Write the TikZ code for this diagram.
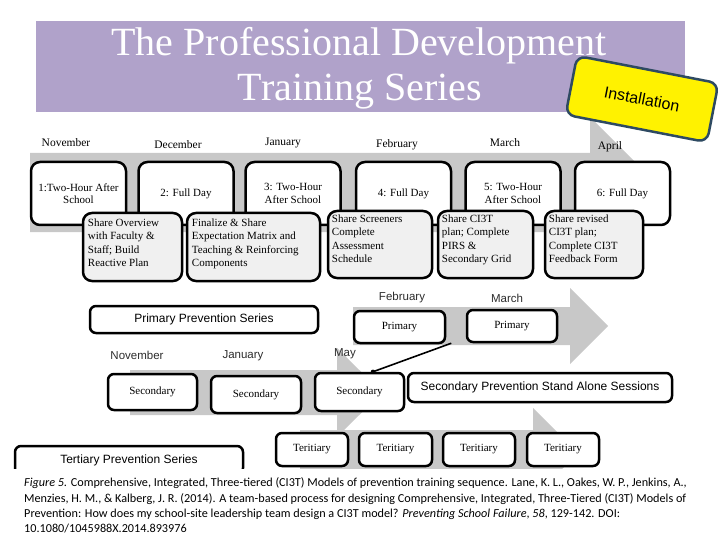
\documentclass[tikz,border=0pt]{standalone}
\usepackage{fontspec}
\setmainfont{Liberation Serif}
\newfontfamily\sansf{Liberation Sans}
\newfontfamily\capf{Carlito}
\usetikzlibrary{calc,arrows.meta}
\definecolor{titlepurple}{RGB}{176,162,202}
\definecolor{bandgray}{RGB}{200,200,200}
\definecolor{subfill}{RGB}{240,240,240}
\definecolor{instborder}{RGB}{46,74,98}
\definecolor{darktext}{RGB}{45,45,45}
\begin{document}
\begin{tikzpicture}[x=1pt,y=-1pt,
  titletext/.style={text=white,font=\fontsize{40}{42}\selectfont,inner sep=0pt},
  monthser/.style={font=\fontsize{11.5}{13}\selectfont,inner sep=0pt},
  monthsans/.style={font=\sansf\fontsize{11.5}{13}\selectfont,text=darktext,inner sep=0pt},
  topbox/.style={draw,line width=2.5pt,rounded corners=9pt,fill=white,inner sep=0pt,align=center,font=\fontsize{11}{12.5}\selectfont},
  subbox/.style={draw,line width=2.5pt,rounded corners=9pt,fill=subfill,inner sep=0pt},
  subtext/.style={anchor=north west,align=left,inner sep=1pt,font=\fontsize{11}{13.3}\selectfont},
  smallbox/.style={draw,line width=2.5pt,rounded corners=6pt,fill=white,inner sep=0pt,font=\fontsize{11}{12.5}\selectfont},
  seriesbox/.style={draw,line width=2.5pt,rounded corners=6pt,fill=white,inner sep=0pt,font=\sansf\fontsize{12}{14}\selectfont},
  band/.style={fill=bandgray,draw=none},
  captext/.style={anchor=base west,inner sep=0pt,font=\capf\fontsize{12.2}{14}\selectfont}
]
\useasboundingbox (0,0) rectangle (720,540);
\fill[white] (0,0) rectangle (720,540);

% title
\fill[titlepurple] (36,21) rectangle (685,112);
\node[titletext,anchor=base] (t1) at (359,56) {The Professional Development};
\node[titletext,anchor=base] (t2) at (360,101) {Training Series};

% top band arrow
\fill[band] (30,153) -- (590,153) -- (590,117) -- (665,192) -- (590,267) -- (590,232) -- (30,232) -- cycle;

% installation
\node[draw=instborder,line width=2.5pt,fill=yellow,rounded corners=9pt,minimum width=144pt,minimum height=60pt,rotate=-11,font=\sansf\fontsize{16}{18}\selectfont] (inst) at (642,99) {Installation};

% months top
\node[monthser] (mNov) at (66,143) {November};
\node[monthser] (mDec) at (178,145) {December};
\node[monthser] (mJan) at (283,143) {January};
\node[monthser] (mFeb) at (397,145) {February};
\node[monthser] (mMar) at (505,143) {March};
\node[monthser] (mApr) at (610,147) {April};

% top boxes
\node[topbox,minimum width=95pt,minimum height=63pt] (b1) at (78.5,193.5) {1:Two-Hour After\\School};
\node[topbox,minimum width=95pt,minimum height=63pt] (b2) at (186,193.5) {2: Full Day};
\node[topbox,minimum width=95pt,minimum height=63pt] (b3) at (293,193.5) {3: Two-Hour\\After School};
\node[topbox,minimum width=95pt,minimum height=63pt] (b4) at (403.5,193.5) {4: Full Day};
\node[topbox,minimum width=95pt,minimum height=63pt] (b5) at (513,193.5) {5: Two-Hour\\After School};
\node[topbox,minimum width=95pt,minimum height=63pt] (b6) at (622.5,193.5) {6: Full Day};

% sub boxes
\node[subbox,minimum width=99pt,minimum height=68pt] (sA) at (132.5,247) {};
\node[subbox,minimum width=133pt,minimum height=68pt] (sB) at (253.5,247) {};
\node[subbox,minimum width=104pt,minimum height=67pt] (sC) at (380,244.5) {};
\node[subbox,minimum width=95pt,minimum height=67pt] (sD) at (485.5,244.5) {};
\node[subbox,minimum width=98pt,minimum height=67pt] (sE) at (594,244.5) {};
\node[subtext] (tA) at ([shift={(5,6)}]sA.north west) {Share Overview\\with Faculty \&\\Staff; Build\\Reactive Plan};
\node[subtext] (tB) at ([shift={(5,6)}]sB.north west) {Finalize \& Share\\Expectation Matrix and\\Teaching \& Reinforcing\\Components};
\node[subtext] (tC) at ([shift={(4,4)}]sC.north west) {Share Screeners\\Complete\\Assessment\\Schedule};
\node[subtext] (tD) at ([shift={(4,4)}]sD.north west) {Share CI3T\\plan; Complete\\PIRS \&\\Secondary Grid};
\node[subtext] (tE) at ([shift={(4,4)}]sE.north west) {Share revised\\CI3T plan;\\Complete CI3T\\Feedback Form};

% primary arrow
\fill[band] (353,307) -- (570,307) -- (570,288) -- (608,326) -- (570,364) -- (570,345) -- (353,345) -- cycle;
\node[seriesbox,minimum width=228pt,minimum height=27pt] (PPS) at (204,319.5) {Primary Prevention Series};
\node[monthsans] (pFeb) at (402,298) {February};
\node[monthsans] (pMar) at (507,298) {March};
\node[smallbox,minimum width=91pt,minimum height=32pt] (P1) at (399.5,327) {Primary};
\node[smallbox,minimum width=90pt,minimum height=32pt] (P2) at (512,326) {Primary};

% secondary arrow
\fill[band] (130,370) -- (337,370) -- (337,348) -- (382,392.5) -- (337,437) -- (337,415) -- (130,415) -- cycle;
\node[monthsans] (sNov) at (137,355) {November};
\node[monthsans] (sJan) at (243,356) {January};
\node[monthsans] (sMay) at (345,354) {May};
\node[smallbox,minimum width=89pt,minimum height=36pt] (S1) at (152.5,392) {Secondary};
\node[smallbox,minimum width=90pt,minimum height=37pt] (S2) at (256,394.5) {Secondary};
\node[smallbox,minimum width=89pt,minimum height=38pt] (S3) at (359.5,392) {Secondary};
\node[seriesbox,minimum width=264pt,minimum height=29pt] (SA) at (540,387.5) {Secondary Prevention Stand Alone Sessions};

% connector
\coordinate (lnStart) at ($(P1.south east)+(5,-1)$);
\coordinate (lnEnd) at ($(S3.north)+(13.5,0)$);
\draw[line width=1.6pt] (lnStart) -- (lnEnd);
\fill (lnEnd) circle (2.2pt);

% tertiary arrow
\fill[band] (300,430) -- (533,430) -- (533,408) -- (578,453) -- (533,498) -- (533,476) -- (300,476) -- cycle;
\node[smallbox,minimum width=72pt,minimum height=33pt] (T1) at (312,449.5) {Teritiary};
\node[smallbox,minimum width=73pt,minimum height=33pt] (T2) at (395.5,449.5) {Teritiary};
\node[smallbox,minimum width=72pt,minimum height=33pt] (T3) at (479,449.5) {Teritiary};
\node[smallbox,minimum width=72pt,minimum height=33pt] (T4) at (563,449.5) {Teritiary};
\node[seriesbox,minimum width=228pt,minimum height=28pt] (TPS) at (129,460) {Tertiary Prevention Series};

% caption
\fill[white] (0,469) rectangle (720,540);
\node[captext] (c1) at (24,486) {\textit{Figure 5.} Comprehensive, Integrated, Three-tiered (CI3T) Models of prevention training sequence. Lane, K. L., Oakes, W. P., Jenkins, A.,};
\node[captext] (c2) at (24,502) {Menzies, H. M., \& Kalberg, J. R. (2014). A team-based process for designing Comprehensive, Integrated, Three-Tiered (CI3T) Models of};
\node[captext] (c3) at (24,517) {Prevention: How does my school-site leadership team design a CI3T model? \textit{Preventing School Failure}, \textit{58}, 129-142. DOI:};
\node[captext] (c4) at (24,532) {10.1080/1045988X.2014.893976};
\end{tikzpicture}
\end{document}
